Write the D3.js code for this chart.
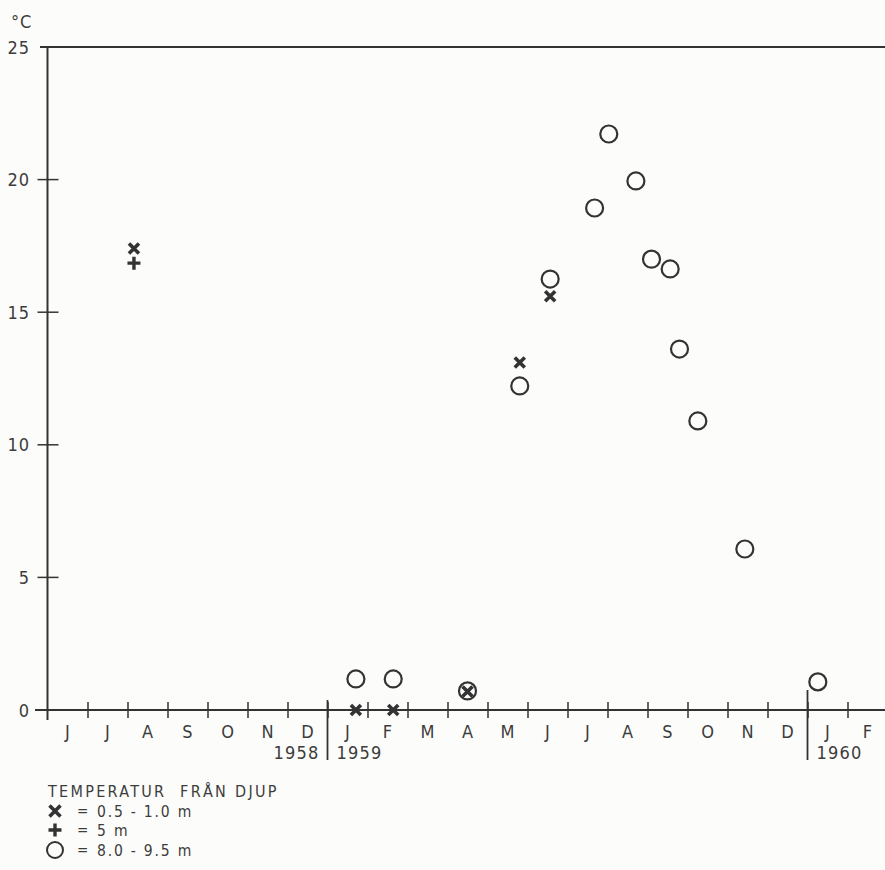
<!DOCTYPE html>
<html>
<head>
<meta charset="utf-8">
<script src="https://cdn.jsdelivr.net/npm/d3@7"></script>
<style>
  html, body { margin: 0; padding: 0; background: #fcfcfb; }
  #chart text { font-family: "DejaVu Sans Condensed", "DejaVu Sans", sans-serif; fill: #3c3c3c; }
</style>
</head>
<body>
<div id="chart"></div>
<script>
// month letters from June 1958 to February 1960
const months = ["J", "J", "A", "S", "O", "N", "D",
                "J", "F", "M", "A", "M", "J", "J", "A", "S", "O", "N", "D",
                "J", "F"];
const yearLabels = ["1958", "1959", "1960"];
const yTicks = [0, 5, 10, 15, 20, 25];

// 0.5 - 1.0 m (crosses)
const shallowDates = ["1958-08-06", "1959-01-23", "1959-02-19", "1959-04-16", "1959-05-26", "1959-06-18"];
const shallowTemps = [17.4, 0.0, 0.0, 0.7, 13.1, 15.6];

// 5 m (plus)
const midDates = ["1958-08-06"];
const midTemps = [16.85];

// 8.0 - 9.5 m (circles)
const deepDates = ["1959-01-23", "1959-02-19", "1959-04-16", "1959-05-26", "1959-06-18",
                   "1959-07-22", "1959-08-02", "1959-08-23", "1959-09-04", "1959-09-18",
                   "1959-09-25", "1959-10-09", "1959-11-14", "1960-01-09"];
const deepTemps = [1.17, 1.17, 0.72, 12.22, 16.25, 18.93, 21.72, 19.95, 17.0, 16.63,
                   13.61, 10.9, 6.07, 1.06];

// fractional month index, 0 = 1 June 1958
function monthIndex(s) {
  const d = new Date(s + "T00:00:00");
  const y = d.getFullYear(), m = d.getMonth();
  const days = new Date(y, m + 1, 0).getDate();
  return (y - 1958) * 12 + (m - 5) + (d.getDate() - 1) / days;
}

const width = 885, height = 870;
const INK = "#333";
const FS = 18;

const svg = d3.select("#chart").append("svg")
  .attr("width", width)
  .attr("height", height);

const x = d3.scaleLinear().domain([0, 21]).range([47.5, 887.5]);
const y = d3.scaleLinear().domain([0, 25]).range([710, 47]);

// top frame line
svg.append("line")
  .attr("x1", 40).attr("x2", width)
  .attr("y1", y(25)).attr("y2", y(25))
  .attr("stroke", INK).attr("stroke-width", 1.8);

// y axis
svg.append("line")
  .attr("x1", x(0)).attr("x2", x(0))
  .attr("y1", y(25)).attr("y2", y(0) + 10)
  .attr("stroke", INK).attr("stroke-width", 2);
svg.append("g").selectAll("line")
  .data(yTicks.filter(d => d > 0 && d < 25))
  .join("line")
  .attr("x1", x(0) - 10).attr("x2", x(0) + 11)
  .attr("y1", d => y(d)).attr("y2", d => y(d))
  .attr("stroke", INK).attr("stroke-width", 1.5);
svg.append("g").selectAll("text")
  .data(yTicks)
  .join("text")
  .attr("x", 30)
  .attr("y", d => y(d) + 6.5)
  .attr("text-anchor", "end")
  .attr("font-size", FS)
  .attr("letter-spacing", 1)
  .text(d => d);
svg.append("text")
  .attr("x", 11).attr("y", 28)
  .attr("font-size", FS)
  .attr("letter-spacing", 1)
  .text("°C");

// x axis
const xAxis = svg.append("g")
  .attr("transform", `translate(0,${y(0)})`)
  .call(d3.axisBottom(x).tickValues(d3.range(1, 21)).tickSize(8).tickSizeOuter(0).tickFormat(""));
xAxis.select(".domain").remove();
xAxis.selectAll(".tick line")
  .attr("y1", -8)
  .attr("stroke", INK)
  .attr("stroke-width", 1.5);
svg.append("line")
  .attr("x1", 35).attr("x2", width)
  .attr("y1", y(0)).attr("y2", y(0))
  .attr("stroke", INK).attr("stroke-width", 1.8);

// year dividers
svg.selectAll("line.year")
  .data([7, 19])
  .join("line")
  .attr("class", "year")
  .attr("x1", d => x(d)).attr("x2", d => x(d))
  .attr("y1", (d, i) => i === 0 ? 700 : 690)
  .attr("y2", 760)
  .attr("stroke", INK).attr("stroke-width", 1.8);

svg.append("g").selectAll("text")
  .data(months)
  .join("text")
  .attr("x", (d, i) => x(i + 0.5))
  .attr("y", 738)
  .attr("text-anchor", "middle")
  .attr("font-size", FS)
  .text(d => d);

svg.append("g").selectAll("text")
  .data(yearLabels)
  .join("text")
  .attr("x", (d, i) => i === 0 ? x(7) - 8 : x(i === 1 ? 7 : 19) + 9)
  .attr("y", 759)
  .attr("text-anchor", (d, i) => i === 0 ? "end" : "start")
  .attr("font-size", FS)
  .attr("letter-spacing", 1.2)
  .text(d => d);

// markers
const crossPath = s => `M${-s},${-s}L${s},${s}M${-s},${s}L${s},${-s}`;
const plusPath = s => `M${-s},0L${s},0M0,${-s}L0,${s}`;

const deep = deepDates.map((d, i) => ({ t: monthIndex(d), v: deepTemps[i] }));
const shallow = shallowDates.map((d, i) => ({ t: monthIndex(d), v: shallowTemps[i] }));
const mid = midDates.map((d, i) => ({ t: monthIndex(d), v: midTemps[i] }));

svg.append("g").selectAll("circle")
  .data(deep)
  .join("circle")
  .attr("cx", d => x(d.t))
  .attr("cy", d => y(d.v))
  .attr("r", 8.5)
  .attr("fill", "none")
  .attr("stroke", INK)
  .attr("stroke-width", 2.2);

svg.append("g").selectAll("path")
  .data(shallow)
  .join("path")
  .attr("transform", d => `translate(${x(d.t)},${y(d.v)})`)
  .attr("d", crossPath(5))
  .attr("fill", "none")
  .attr("stroke", INK)
  .attr("stroke-width", 3.6);

svg.append("g").selectAll("path")
  .data(mid)
  .join("path")
  .attr("transform", d => `translate(${x(d.t)},${y(d.v)})`)
  .attr("d", plusPath(6.5))
  .attr("fill", "none")
  .attr("stroke", INK)
  .attr("stroke-width", 3.4);

// legend
const legend = svg.append("g");
legend.append("text")
  .attr("x", 48).attr("y", 797)
  .attr("font-size", 16)
  .attr("letter-spacing", 2.3)
  .style("white-space", "pre")
  .text("TEMPERATUR  FRÅN DJUP");

const rows = [
  { cy: 811, label: "0.5 - 1.0 m", kind: "x" },
  { cy: 830, label: "5 m", kind: "+" },
  { cy: 850, label: "8.0 - 9.5 m", kind: "o" }
];
rows.forEach(r => {
  if (r.kind === "x") {
    legend.append("path").attr("transform", `translate(55,${r.cy})`)
      .attr("d", crossPath(5.5)).attr("fill", "none").attr("stroke", INK).attr("stroke-width", 3.6);
  } else if (r.kind === "+") {
    legend.append("path").attr("transform", `translate(55,${r.cy})`)
      .attr("d", plusPath(6.5)).attr("fill", "none").attr("stroke", INK).attr("stroke-width", 3.4);
  } else {
    legend.append("circle").attr("cx", 55).attr("cy", r.cy).attr("r", 8)
      .attr("fill", "none").attr("stroke", INK).attr("stroke-width", 2);
  }
  legend.append("text").attr("x", 77).attr("y", r.cy + 5).attr("font-size", 15).text("=");
  legend.append("text").attr("x", 97).attr("y", r.cy + 5.5)
    .attr("font-size", 15.5).attr("letter-spacing", 1.8)
    .style("white-space", "pre").text(r.label);
});
</script>
</body>
</html>
